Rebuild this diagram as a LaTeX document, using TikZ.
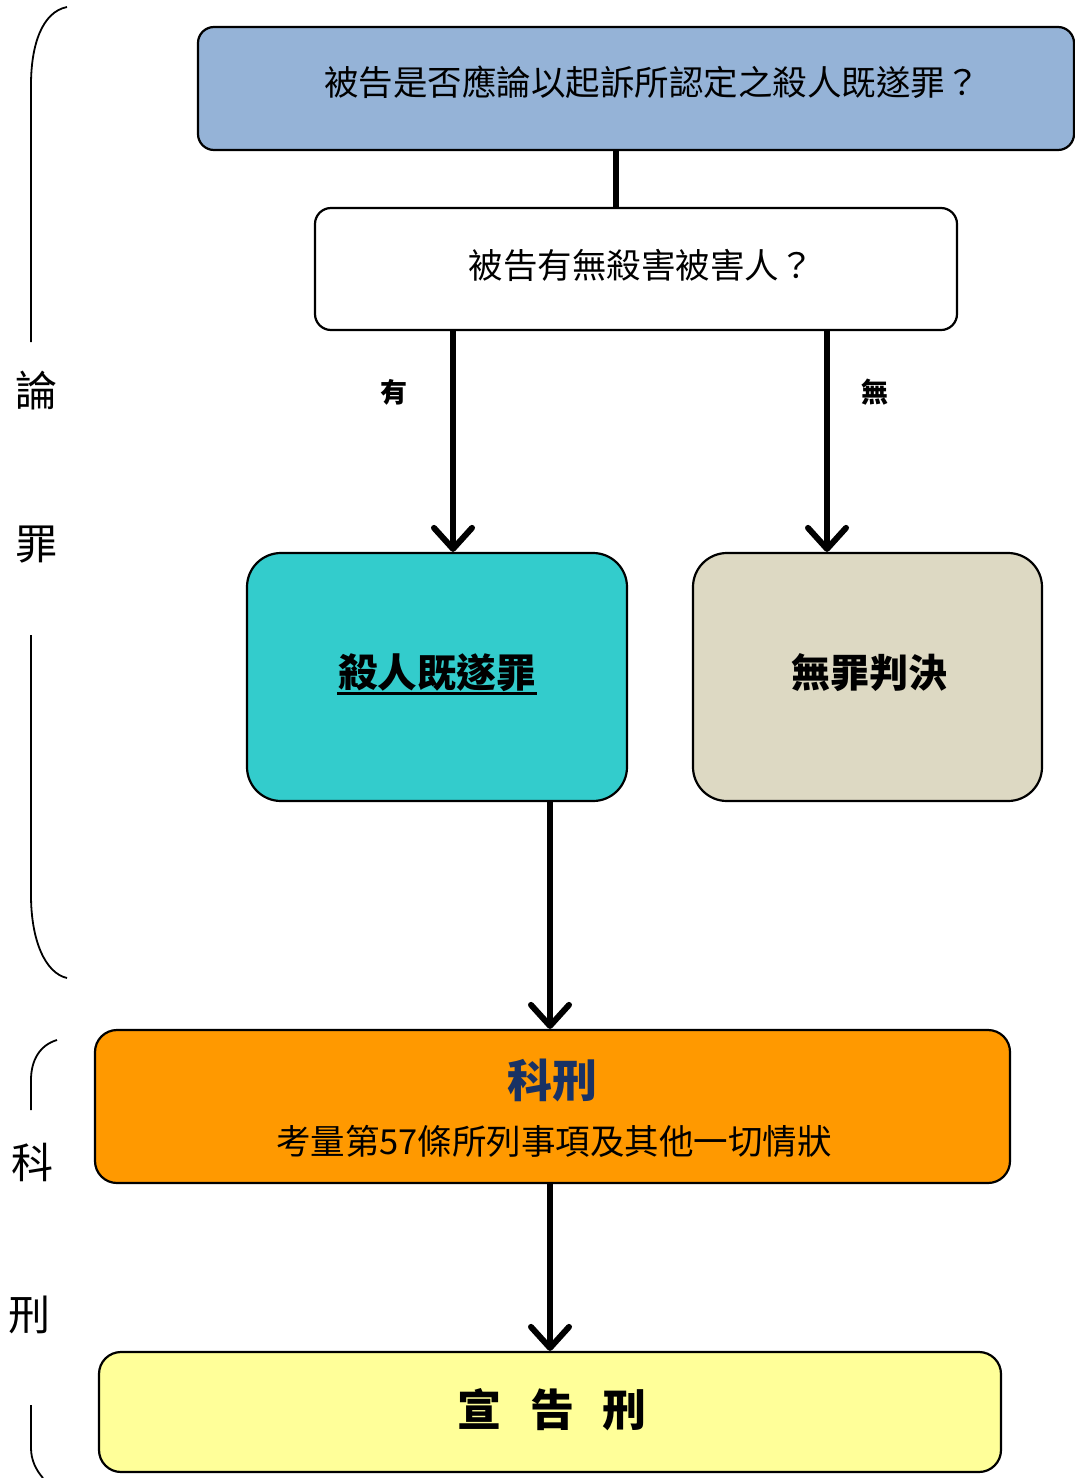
\documentclass[tikz,border=0pt]{standalone}
\usepackage{fontspec}
\setmainfont{Noto Sans CJK TC}
\usetikzlibrary{arrows.meta}
\definecolor{cblue}{HTML}{95B3D7}
\definecolor{cteal}{HTML}{33CCCC}
\definecolor{cbeige}{HTML}{DDD9C3}
\definecolor{corange}{HTML}{FF9900}
\definecolor{cyellow}{HTML}{FFFF99}
\definecolor{cnavy}{RGB}{25,50,100}
\newcommand{\fs}[1]{\fontsize{#1}{#1}\selectfont}
\tikzset{
  box/.style={draw=black, line width=2.2pt, rounded corners=#1, inner sep=0pt},
  box/.default=16pt,
  conn/.style={line width=6pt},
  arr/.style={line width=6pt, -{Straight Barb[length=21pt,width=38pt,line width=6pt,round]}},
  brace/.style={line width=1.8pt},
  side/.style={inner sep=0pt, font=\fs{42}},
  txt/.style={inner sep=0pt}
}
\begin{document}
\begin{tikzpicture}[x=1pt,y=-1pt]
\useasboundingbox (0,0) rectangle (1075,1478);
% boxes
\node[box, fill=cblue, minimum width=876pt, minimum height=123pt] (q1) at (636,88.5) {};
\node[txt, font=\fs{34.5}] (q1t) at (652,82) {被告是否應論以起訴所認定之殺人既遂罪？};
\node[box, fill=white, minimum width=642pt, minimum height=122pt] (q2) at (636,269) {};
\node[txt, font=\fs{34.5}] (q2t) at (641,265) {被告有無殺害被害人？};
\node[box=34pt, fill=cteal, minimum width=380pt, minimum height=248pt] (a1) at (437,677) {};
\node[txt, font=\bfseries\fs{39.5}] (a1t) at (437,673) {殺人既遂罪};
\node[box=34pt, fill=cbeige, minimum width=349pt, minimum height=248pt] (a2) at (867.5,677) {};
\node[txt, font=\bfseries\fs{39}] (a2t) at (869,673) {無罪判決};
\node[box=22pt, fill=corange, minimum width=915pt, minimum height=153pt] (k) at (552.5,1106.5) {};
\node[txt, font=\bfseries\fs{45}, text=cnavy] (kt) at (552,1080) {科刑};
\node[txt, font=\fs{34.5}] (ks) at (554,1141) {考量第57條所列事項及其他一切情狀};
\node[box=22pt, fill=cyellow, minimum width=902pt, minimum height=120pt] (s) at (550,1412) {};
\node[txt, font=\bfseries\fs{44}] (st) at (552,1410) {宣\hspace{29pt}告\hspace{29pt}刑};
% underline
\draw[line width=3pt] ([xshift=-100pt,yshift=-20pt]a1t.center) -- ([xshift=100pt,yshift=-20pt]a1t.center);
% connectors
\draw[conn] ([xshift=-20pt]q1.south) -- ([xshift=-20pt]q2.north);
\draw[arr] ([xshift=-183pt]q2.south) -- ([xshift=-183pt]q2.south |- a1.north);
\draw[arr] ([xshift=191pt]q2.south) -- ([xshift=191pt]q2.south |- a2.north);
\draw[arr] ([xshift=113pt]a1.south) -- ([xshift=113pt]a1.south |- k.north);
\draw[arr] (s.north |- k.south) -- (s.north);
% labels
\node[txt, font=\bfseries\fs{27}] (lyes) at (394,392) {有};
\node[txt, font=\bfseries\fs{27}] (lno) at (875,392) {無};
% side braces
\draw[brace] (67,7) .. controls (42,12) and (31,45) .. (31,85) -- (31,342);
\draw[brace] (31,635) -- (31,895) .. controls (31,940) and (45,973) .. (67,978);
\draw[brace] (57,1040) .. controls (40,1045) and (31,1060) .. (31,1080) -- (31,1110);
\draw[brace] (31,1405) -- (31,1448) .. controls (31,1460) and (36,1470) .. (43,1478);
\node[side] (s1) at (36,391) {論};
\node[side] (s2) at (36,545) {罪};
\node[side] (s3) at (32,1162) {科};
\node[side] (s4) at (30,1315) {刑};
\end{tikzpicture}
\end{document}
